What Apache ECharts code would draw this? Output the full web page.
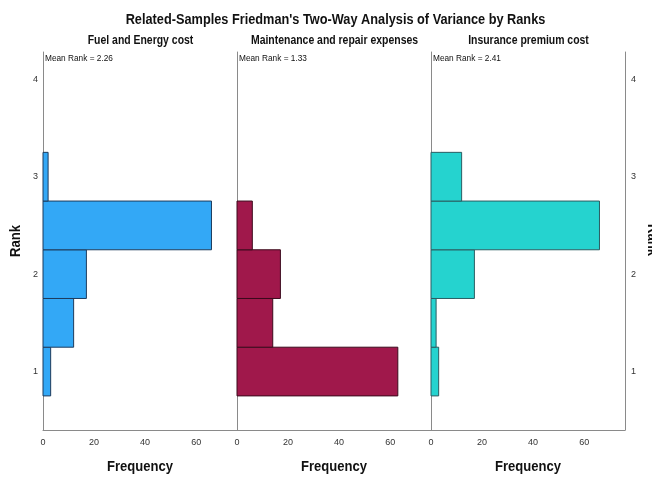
<!DOCTYPE html>
<html>
<head>
<meta charset="utf-8">
<script src="https://cdn.jsdelivr.net/npm/echarts@6/dist/echarts.min.js"></script>
<style>
html,body{margin:0;padding:0;background:#fff;}
#chart{width:652px;height:477px;}
</style>
</head>
<body>
<div id="chart"></div>
<script>
const mainTitle = "Related-Samples Friedman's Two-Way Analysis of Variance by Ranks";
const panelTitles = ["Fuel and Energy cost", "Maintenance and repair expenses", "Insurance premium cost"];
const meanRanks = ["2.26", "1.33", "2.41"];
const rankBins = [1, 1.5, 2, 2.5, 3];
const binWidth = 0.5;
const fuelFreq = [3, 12, 17, 66, 2];
const maintFreq = [63, 14, 17, 6, 0];
const insurFreq = [3, 2, 17, 66, 12];
const xTickLabels = [0, 20, 40, 60];
const yTickLabels = [1, 2, 3, 4];
const yAxisName = "Rank";
const xAxisName = "Frequency";

const FONT = "'Liberation Sans', Arial, sans-serif";
const panelLefts = [43, 237, 431];
const panelW = 194;
const gridTop = 52, gridBottom = 477 - 430;
const yMin = 0.40, yMax = 4.28;
const fills = ['#33a8f6', '#a0184b', '#25d3cf'];
const strokes = ['#1d3b5c', '#3b0a1c', '#2b5d62'];
const freqs = [fuelFreq, maintFreq, insurFreq];

const chart = echarts.init(document.getElementById('chart'), null, {renderer: 'canvas'});

function txt(text, x, y, font, sx, extra) {
  return Object.assign({
    type: 'text', x: x, y: y, scaleX: sx, silent: true,
    style: {text: text, font: font, fill: '#111', textAlign: 'center', textVerticalAlign: 'middle'}
  }, extra || {});
}

const grids = [], xAxes = [], yAxes = [], series = [], graphics = [];
panelLefts.forEach((left, i) => {
  grids.push({left: left, width: panelW, top: gridTop, bottom: gridBottom, containLabel: false, outerBoundsMode: 'none'});
  xAxes.push({
    type: 'value', gridIndex: i, min: 0, max: 76,
    axisLine: {show: true, lineStyle: {color: '#8a8a8a', width: 1}},
    axisTick: {show: false},
    splitLine: {show: false},
    axisLabel: {customValues: xTickLabels, color: '#333', fontSize: 9, fontFamily: FONT, margin: 8}
  });
  yAxes.push({
    type: 'value', gridIndex: i, min: yMin, max: yMax,
    axisLine: {show: true, lineStyle: {color: '#8a8a8a', width: 1}},
    axisTick: {show: false},
    splitLine: {show: false},
    axisLabel: {show: i === 0, customValues: yTickLabels, color: '#333', fontSize: 9, fontFamily: FONT, margin: 5}
  });
  series.push({
    type: 'custom', xAxisIndex: i, yAxisIndex: i,
    data: rankBins.map((r, k) => [freqs[i][k], r]),
    encode: {x: 0, y: 1},
    renderItem: (params, api) => {
      const c = api.value(0), r = api.value(1);
      if (!c) return null;
      const p1 = api.coord([0, r + binWidth / 2]);
      const p2 = api.coord([c, r - binWidth / 2]);
      return {
        type: 'rect',
        shape: {x: p1[0], y: p1[1], width: p2[0] - p1[0], height: p2[1] - p1[1]},
        style: {fill: fills[i], stroke: strokes[i], lineWidth: 1}
      };
    },
    silent: true, animation: false
  });
  graphics.push(txt(panelTitles[i], left + panelW / 2 + 0.5, 41, 'bold 12px ' + FONT, 0.87));
  graphics.push(txt('Mean Rank = ' + meanRanks[i], left + 2, 59, '9px ' + FONT, 0.92,
    {style: {text: 'Mean Rank = ' + meanRanks[i], font: '9px ' + FONT, fill: '#111', textAlign: 'left', textVerticalAlign: 'middle'}}));
  graphics.push(txt(xAxisName, left + panelW / 2, 467, 'bold 15px ' + FONT, 0.87));
});
// right-side rank axis
yAxes.push({
  type: 'value', gridIndex: 2, position: 'right', min: yMin, max: yMax,
  axisLine: {show: true, onZero: false, lineStyle: {color: '#8a8a8a', width: 1}},
  axisTick: {show: false}, splitLine: {show: false},
  axisLabel: {customValues: yTickLabels, color: '#333', fontSize: 9, fontFamily: FONT, margin: 6}
});

graphics.push(txt(mainTitle, 335.5, 20, 'bold 15px ' + FONT, 0.85));
graphics.push(txt(yAxisName, 16, 241, 'bold 15px ' + FONT, 0.87, {rotation: Math.PI / 2}));
graphics.push(txt(yAxisName, 645, 240, 'bold 15px ' + FONT, 0.87, {
  rotation: -Math.PI / 2,
  style: {text: yAxisName, font: 'bold 15px ' + FONT, fill: '#111', textAlign: 'center', textVerticalAlign: 'bottom'}
}));

chart.setOption({
  backgroundColor: '#fff',
  animation: false,
  grid: grids, xAxis: xAxes, yAxis: yAxes, series: series,
  graphic: {elements: graphics}
});
</script>
</body>
</html>
